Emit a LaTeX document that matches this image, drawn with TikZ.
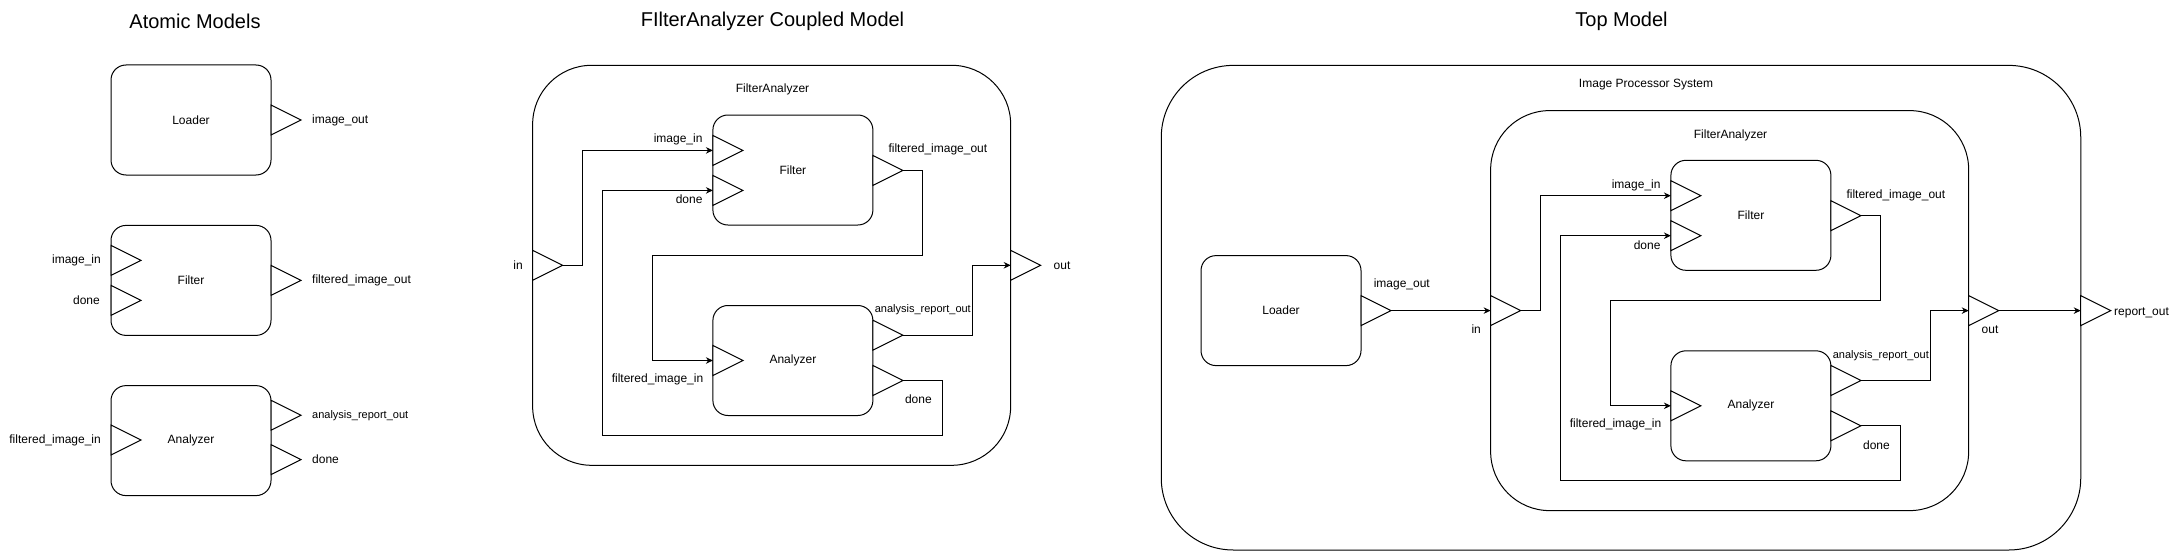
\documentclass[tikz,border=0pt]{standalone}
\usepackage{fontspec}
\setmainfont{Liberation Sans}
\usetikzlibrary{arrows.meta}
\tikzset{
  box/.style={draw, line width=1pt, rounded corners=15pt, minimum width=160pt, minimum height=110pt, inner sep=0pt, font=\fontsize{12}{14}\selectfont},
  cont/.style={draw, line width=1pt, rounded corners=59pt, inner sep=0pt, minimum width=478pt, minimum height=400pt},
  portline/.style={draw, line width=1pt, fill=white, line join=miter},
  conn/.style={line width=1pt, -{Stealth[length=7pt,width=6.5pt]}},
  lbl/.style={inner sep=0pt, font=\fontsize{12}{14}\selectfont},
  lbls/.style={inner sep=0pt, font=\fontsize{11}{13}\selectfont},
  ttl/.style={inner sep=0pt, font=\fontsize{20}{24}\selectfont},
}
% port triangle: name, base x, base y (pointing right)
\newcommand\portR[3]{%
  \draw[portline] (#2,#3-15) -- (#2+30,#3) -- (#2,#3+15) -- cycle;
  \coordinate (#1) at (#2,#3);
  \coordinate (#1t) at (#2+30,#3);}
% FilterAnalyzer coupled model contents
\newcommand\fainner[1]{%
  \node[cont] (#1C) at (771.65,265.3) {};
  \node[lbl] (#1Cl) at (772.5,89.6) {FilterAnalyzer};
  \node[box] (#1F) at (792.9,170) {Filter};
  \node[box] (#1A) at (792.9,360.5) {Analyzer};
  \portR{#1Fimg}{712.9}{150.4}
  \portR{#1Fdone}{712.9}{190.4}
  \portR{#1Fout}{872.9}{170.4}
  \portR{#1Ain}{712.9}{360.5}
  \portR{#1Arep}{872.9}{335.2}
  \portR{#1Adone}{872.9}{380.5}
  \portR{#1in}{532.6}{265.3}
  \portR{#1out}{1010.7}{265.3}
  \node[lbl, anchor=east] (#1l1) at (702.7,139.8) {image\_in};
  \node[lbl, anchor=east] (#1l2) at (702.7,199.6) {done};
  \node[lbl, anchor=west] (#1l3) at (888.3,149.7) {filtered\_image\_out};
  \node[lbl, anchor=east] (#1l4) at (703.4,379.5) {filtered\_image\_in};
  \node[lbls, anchor=west] (#1l5) at (874.6,309.9) {analysis\_report\_out};
  \node[lbl] (#1l6) at (918.4,399.5) {done};
  \draw[conn] (#1int) -- ++(20,0) |- (#1Fimg);
  \draw[conn] (#1Foutt) -- ++(20,0) -- ++(0,85) -| ([xshift=-60pt]#1Ain) -- (#1Ain);
  \draw[conn] (#1Arept) -- ++(69.6,0) |- (#1out);
  \draw[conn] (#1Adonet) -- ++(40,0) -- ++(0,54.5) -| ([xshift=-110pt]#1Fdone) -- (#1Fdone);
}
\begin{document}
\begin{tikzpicture}[x=1pt,y=-1pt]
\useasboundingbox (0,0) rectangle (2181,551);
% ---------- Atomic models ----------
\node[ttl] (t1) at (195,21) {Atomic Models};
\node[box] (aL) at (191,120) {Loader};
\node[box] (aF) at (191,280.4) {Filter};
\node[box] (aA) at (191,440.6) {Analyzer};
\portR{aLout}{271}{120}
\portR{aFimg}{111}{260.4}
\portR{aFdone}{111}{300.4}
\portR{aFout}{271}{280.4}
\portR{aAin}{111}{440}
\portR{aArep}{271}{415.3}
\portR{aAdone}{271}{459.6}
\node[lbl, anchor=west] (al1) at (312,120) {image\_out};
\node[lbl, anchor=east] (al2) at (101,260.4) {image\_in};
\node[lbl, anchor=east] (al3) at (100,300.4) {done};
\node[lbl, anchor=west] (al4) at (312,280.4) {filtered\_image\_out};
\node[lbl, anchor=east] (al5) at (101,440) {filtered\_image\_in};
\node[lbls, anchor=west] (al6) at (312,415.3) {analysis\_report\_out};
\node[lbl, anchor=west] (al7) at (312,459.6) {done};
% ---------- Coupled model ----------
\node[ttl] (t2) at (772.5,21) {FIlterAnalyzer Coupled Model};
\fainner{c}
\node[lbl] (cinl) at (518,265.3) {in};
\node[lbl] (coutl) at (1062,265.3) {out};
% ---------- Top model ----------
\node[ttl] (t3) at (1621.5,21) {Top Model};
\node[cont, rounded corners=72pt, minimum width=919.5pt, minimum height=484.6pt] (tS) at (1621,307.7) {};
\node[lbl] (tSl) at (1646,84.7) {Image Processor System};
\begin{scope}[shift={(958,45.3)}]
\fainner{t}
\end{scope}
\node[box] (tL) at (1281,310.6) {Loader};
\portR{tLout}{1361}{310.6}
\portR{trep}{2080.7}{310.6}
\node[lbl] (tl1) at (1401.8,284.6) {image\_out};
\node[lbl] (tl2) at (1476.2,329.6) {in};
\node[lbl] (tl3) at (1990,329.6) {out};
\node[lbl, anchor=west] (tl4) at (2114,312.7) {report\_out};
\draw[conn] (tLoutt) -- (tin);
\draw[conn] (toutt) -- (trep);
\end{tikzpicture}
\end{document}
